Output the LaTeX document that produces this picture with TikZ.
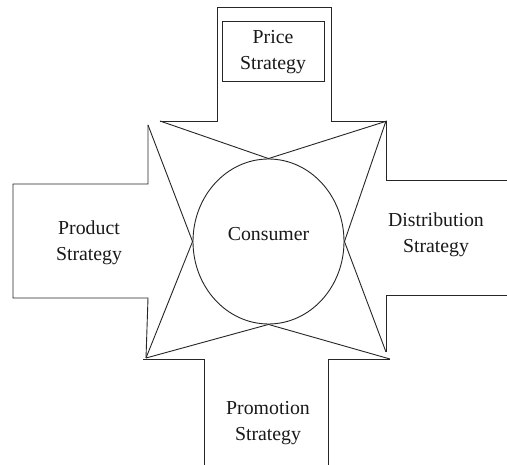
\documentclass[tikz,border=0pt]{standalone}
\usepackage{fontspec}
\setmainfont{Liberation Serif}
\usetikzlibrary{shapes.geometric}
\begin{document}
\begin{tikzpicture}[x=1pt,y=-1pt,
  outline/.style={line width=0.9pt,draw=black!85},
  label/.style={align=center,font=\fontsize{19.8}{26}\selectfont,text=black!90,inner sep=0pt}]
\useasboundingbox (0,0) rectangle (507,465);
\fill[white] (0,0) rectangle (507,465);

% centre ellipse
\node[ellipse,outline,minimum width=151pt,minimum height=165pt,inner sep=0pt] (consumer) at (268.5,241.5) {};
\node[label] (consumertext) at (268.5,234) {Consumer};

% star corner points
\coordinate (tl) at (160,121);
\coordinate (tr) at (387,121);
\coordinate (lt) at (148,125);
\coordinate (lb) at (146,358);
\coordinate (bl) at (146,358);
\coordinate (br) at (390,359);
\coordinate (rt) at (386,121);
\coordinate (rb) at (386,352);

% top arm
\draw[outline] (tl) -- (217,121) -- (217,7) -- (331,7) -- (331,121) -- (tr);
\node[outline,minimum width=102pt,minimum height=60pt,inner sep=0pt] (pricebox) at (273,51.7) {};
\node[label] (price) at (273,52) {Price\\Strategy};

% left arm
\draw[outline] (lt) -- (148,184) -- (13,184) -- (13,298) -- (148,298) -- (lb);
\node[label] (product) at (89,243) {Product\\Strategy};

% right arm
\draw[outline] (rt) -- (386,180) -- (507,180);
\draw[outline] (507,295) -- (386,295) -- (rb);
\node[label] (distribution) at (436,235) {Distribution\\Strategy};

% bottom arm
\draw[outline] (143,359) -- (204,359) -- (204,465);
\draw[outline] (328,465) -- (328,359) -- (br);
\node[label] (promotion) at (268,423) {Promotion\\Strategy};

% star diagonals touching the ellipse
\draw[outline] (tl) -- (consumer.north) -- (tr);
\draw[outline] (lt) -- (consumer.west) -- (lb);
\draw[outline] (bl) -- (consumer.south) -- (br);
\draw[outline] (rt) -- (consumer.east) -- (rb);
\end{tikzpicture}
\end{document}
